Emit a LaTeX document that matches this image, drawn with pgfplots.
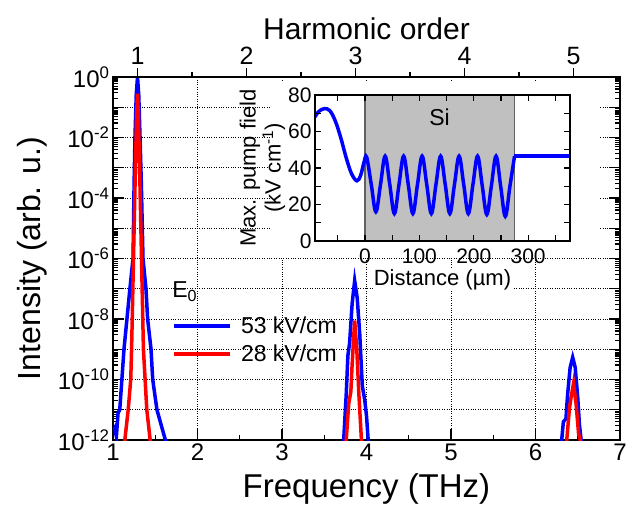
\documentclass[border=0pt]{standalone}
\usepackage{fontspec}
\setmainfont{Liberation Sans}
\usepackage{pgfplots}
\pgfplotsset{compat=1.18}
\definecolor{sigray}{HTML}{C0C0C0}
\definecolor{siedge}{HTML}{606060}
\begin{document}
\begin{tikzpicture}
\useasboundingbox (-113pt,-70pt) rectangle (521pt,440pt);
\pgfplotsset{every axis/.append style={/pgf/number format/assume math mode=true}}
% main spectrum
\begin{axis}[
  scale only axis, width=507pt, height=363pt,
  xmin=1, xmax=7, ymode=log, ymin=1e-12, ymax=1,
  xtick={1,...,7}, minor xtick={1.5,2.5,...,6.5},
  xtick pos=bottom,
  ytickten={-12,...,0},
  yticklabels={10\textsuperscript{-12},{},10\textsuperscript{-10},{},10\textsuperscript{-8},{},10\textsuperscript{-6},{},10\textsuperscript{-4},{},10\textsuperscript{-2},{},10\textsuperscript{0}},
  grid=major, major grid style={dotted, black, line width=0.9pt},
  axis line style={line width=1.6pt},
  every tick/.style={black, line width=1.2pt},
  major tick length=11pt, minor tick length=5pt,
  tick label style={font=\fontsize{24}{28}\selectfont},
  xlabel style={font=\fontsize{33}{36}\selectfont, yshift=-6pt},
  ylabel style={font=\fontsize{32}{36}\selectfont, yshift=4pt},
  xlabel={Frequency (THz)}, ylabel={Intensity (arb. u.)},
  legend style={at={(0.117,0.345)}, anchor=north west, draw=none, fill=none,
    font=\fontsize{23}{26}\selectfont, row sep=6pt, inner sep=0pt},
  legend cell align=left,
  legend image code/.code={\draw[#1] (0pt,0pt) -- (56pt,0pt); \path (63pt,0pt);},
]
\addplot[blue, line width=3.5pt] coordinates {
  (1.00,2e-12) (1.02,2.5e-12) (1.04,1.3e-12) (1.05,3.2e-12) (1.06,7.9e-12)
  (1.08,1e-11) (1.10,6.3e-11) (1.13,1e-9) (1.165,1e-8) (1.20,1e-7) (1.237,1e-6)
  (1.25,3.2e-4) (1.26,1e-2) (1.275,0.25) (1.29,1) (1.305,0.25) (1.32,1e-2)
  (1.335,3.2e-4) (1.355,1e-6) (1.39,1e-7) (1.41,1e-8) (1.45,1e-9) (1.47,1e-10)
  (1.52,1e-11) (1.55,5e-12) (1.58,2.5e-12) (1.62,1e-12) (1.64,3.2e-13)
  (2.5,1e-14)
  (3.70,3.2e-13) (3.73,1e-12) (3.76,3.2e-11) (3.78,6.3e-10) (3.80,1.6e-9)
  (3.83,3.2e-8) (3.86,1.86e-7) (3.89,5e-8) (3.92,3.2e-9) (3.95,6.3e-11)
  (3.98,2e-11) (4.00,6.3e-12) (4.02,1e-12) (4.04,3.2e-13)
  (5.2,1e-14)
  (6.29,3.2e-13) (6.31,1e-12) (6.33,4e-12) (6.36,5e-12) (6.38,3.2e-11)
  (6.41,2.5e-10) (6.44,5.4e-10) (6.47,2.5e-10) (6.50,2.5e-11) (6.52,3.2e-12)
  (6.54,1e-12) (6.56,3.2e-13)
};
\addlegendentry{53 kV/cm}
\addplot[red, line width=3.5pt] coordinates {
  (1.12,3.2e-13) (1.14,1e-12) (1.18,1e-11) (1.21,1e-10) (1.22,1e-9) (1.235,1e-7)
  (1.25,1e-5) (1.265,1e-3) (1.28,6.3e-2) (1.29,0.28) (1.30,6.3e-2) (1.315,1e-3)
  (1.33,1e-5) (1.345,1e-7) (1.36,1e-9) (1.38,1e-10) (1.40,1e-11) (1.44,1e-12)
  (1.46,3.2e-13)
  (2.5,1e-14)
  (3.74,3.2e-13) (3.76,1e-12) (3.79,1.6e-11) (3.815,4e-11) (3.83,3.2e-10)
  (3.86,8.9e-9) (3.885,1e-9) (3.91,3.2e-11) (3.94,1e-12) (3.96,3.2e-13)
  (5.2,1e-14)
  (6.35,3.2e-13) (6.37,1e-12) (6.40,1e-11) (6.42,2.5e-11) (6.45,7.4e-11)
  (6.48,1.6e-11) (6.51,1.6e-12) (6.53,1e-12) (6.55,3.2e-13)
};
\addlegendentry{28 kV/cm}
\node[anchor=base west, inner sep=0pt, font=\fontsize{23}{26}\selectfont] at (axis cs:1.70,5e-8) {E\textsubscript{0}};
\end{axis}
% harmonic order axis on top
\begin{axis}[
  scale only axis, width=507pt, height=363pt,
  xmin=0.7752, xmax=5.4264, ymin=0, ymax=1,
  axis x line*=top, axis y line=none,
  xtick={1,...,5}, minor xtick={1.5,2.5,3.5,4.5},
  tick align=outside,
  axis line style={line width=1.6pt},
  every tick/.style={black, line width=1.2pt},
  major tick length=9pt, minor tick length=5pt,
  tick label style={font=\fontsize{25}{28}\selectfont},
  label style={font=\fontsize{30}{34}\selectfont},
  xlabel={Harmonic order},
]
\addplot[draw=none] coordinates {(1,0.5)};
\end{axis}
% white backing behind the inset
\fill[white] (157pt,182pt) rectangle (487pt,358pt);
% inset: maximum pump field
\begin{axis}[
  at={(202pt,199pt)}, anchor=south west,
  scale only axis, width=255pt, height=146pt,
  xmin=-92, xmax=377, ymin=0, ymax=80,
  xtick={0,100,200,300}, minor xtick={-50,50,150,250,350},
  ytick={0,20,...,80}, minor ytick={10,30,50,70},
  axis line style={line width=1.4pt},
  every tick/.style={black, line width=1.2pt},
  major tick length=6pt, minor tick length=6pt,
  tick label style={font=\fontsize{21}{24}\selectfont},
  xticklabel style={yshift=-4pt},
  label style={font=\fontsize{22}{25}\selectfont},
  xlabel={Distance (\textmu m)},
  xlabel style={fill=white, inner sep=1pt, yshift=-2pt},
  ylabel={Max. pump field\\(kV cm\textsuperscript{-1})},
  ylabel style={align=center, yshift=-4pt},
  axis on top,
]
\addplot[fill=sigray, draw=siedge, line width=1.2pt] coordinates {(0,0) (0,80) (275,80) (275,0)} -- cycle;
\addplot[blue, line width=3.5pt, smooth, tension=0.6] coordinates {
  (-92,68) (-85,71) (-75,72.5) (-65,71.5) (-55,66) (-45,57) (-35,46) (-25,37)
  (-15,33) (-8,36) (-2,43) (3,46)
  (11.5,31) (20,16) (28.5,31) (37,46.5) (45.5,31) (54,15) (62.5,31) (71,46.5)
  (79.5,31) (88,15) (96.5,31) (105,46.5) (113.5,31) (122,15) (130.5,31) (139,46.5)
  (147.5,31) (156,15) (164.5,31) (173,46.5) (181.5,31) (190,15) (198.5,31) (207,46.5)
  (215.5,30.5) (224,14.5) (232.5,30.5) (241,46.5) (249.5,30) (258,13.5) (266.5,30) (275,46.5)
};
\addplot[blue, line width=3.5pt] coordinates {(274,46.5) (377,46.5)};
\node[font=\fontsize{23}{26}\selectfont] at (axis cs:137,68) {Si};
\end{axis}
\end{tikzpicture}
\end{document}
